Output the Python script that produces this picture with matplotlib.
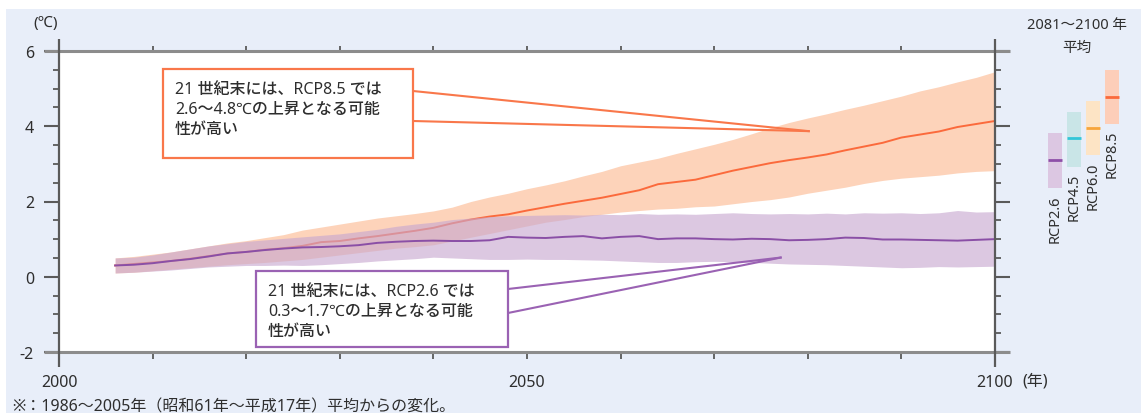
import matplotlib
matplotlib.use('Agg')
import matplotlib.pyplot as plt
from matplotlib.patches import Rectangle
from matplotlib.lines import Line2D
from matplotlib.transforms import Affine2D
from matplotlib.ticker import MultipleLocator

plt.rcParams['font.family'] = ['Noto Sans', 'Noto Sans CJK JP', 'DejaVu Sans']

# ---------------- data ----------------
years = list(range(2006, 2101, 2))

rcp85_mean = [0.30, 0.34, 0.38, 0.42, 0.48, 0.55, 0.62, 0.66, 0.72, 0.76,
              0.82, 0.92, 0.95, 1.02, 1.08, 1.15, 1.22, 1.30, 1.42, 1.52,
              1.60, 1.66, 1.76, 1.85, 1.94, 2.02, 2.10, 2.20, 2.30, 2.46,
              2.52, 2.58, 2.70, 2.82, 2.92, 3.02, 3.10, 3.17, 3.25, 3.36,
              3.46, 3.56, 3.70, 3.78, 3.86, 3.98, 4.06, 4.14]
rcp85_high = [0.50, 0.54, 0.60, 0.66, 0.74, 0.82, 0.90, 0.96, 1.04, 1.12,
              1.24, 1.32, 1.40, 1.48, 1.56, 1.62, 1.68, 1.75, 1.85, 2.00,
              2.12, 2.22, 2.34, 2.44, 2.55, 2.68, 2.80, 2.95, 3.05, 3.15,
              3.28, 3.40, 3.52, 3.65, 3.80, 3.96, 4.10, 4.22, 4.33, 4.45,
              4.56, 4.68, 4.80, 4.94, 5.05, 5.18, 5.30, 5.45]
rcp85_low = [0.10, 0.12, 0.16, 0.20, 0.24, 0.28, 0.32, 0.35, 0.38, 0.42,
             0.46, 0.52, 0.58, 0.64, 0.70, 0.76, 0.80, 0.85, 0.95, 1.05,
             1.15, 1.25, 1.35, 1.45, 1.52, 1.60, 1.66, 1.72, 1.76, 1.80,
             1.82, 1.86, 1.88, 1.94, 2.00, 2.05, 2.12, 2.22, 2.30, 2.38,
             2.48, 2.56, 2.62, 2.66, 2.70, 2.76, 2.80, 2.82]

rcp26_mean = [0.30, 0.32, 0.36, 0.42, 0.47, 0.54, 0.62, 0.66, 0.71, 0.75,
              0.78, 0.79, 0.81, 0.84, 0.90, 0.93, 0.95, 0.96, 0.95, 0.95,
              0.97, 1.06, 1.04, 1.03, 1.06, 1.08, 1.02, 1.06, 1.08, 1.00,
              1.02, 1.02, 1.00, 0.99, 1.01, 1.00, 0.97, 0.98, 1.00, 1.04,
              1.03, 0.99, 0.99, 0.98, 0.97, 0.96, 0.98, 1.00]
rcp26_high = [0.50, 0.52, 0.58, 0.66, 0.74, 0.82, 0.88, 0.94, 0.98, 1.02,
              1.06, 1.10, 1.14, 1.20, 1.26, 1.34, 1.40, 1.45, 1.52, 1.56,
              1.60, 1.62, 1.63, 1.64, 1.65, 1.64, 1.66, 1.65, 1.68, 1.66,
              1.67, 1.66, 1.68, 1.70, 1.68, 1.67, 1.68, 1.67, 1.69, 1.67,
              1.70, 1.69, 1.70, 1.68, 1.70, 1.76, 1.72, 1.73]
rcp26_low = [0.10, 0.12, 0.15, 0.18, 0.22, 0.26, 0.28, 0.30, 0.30, 0.31,
             0.30, 0.32, 0.35, 0.38, 0.42, 0.45, 0.48, 0.52, 0.50, 0.48,
             0.46, 0.46, 0.47, 0.46, 0.46, 0.45, 0.44, 0.42, 0.40, 0.38,
             0.38, 0.40, 0.41, 0.40, 0.38, 0.36, 0.34, 0.33, 0.32, 0.30,
             0.28, 0.26, 0.24, 0.25, 0.27, 0.26, 0.27, 0.28]

# 2081-2100 average panel (schematic boxes, values as drawn on the chart's scale)
scenarios = ['RCP2.6', 'RCP4.5', 'RCP6.0', 'RCP8.5']
box_low = [2.35, 2.93, 3.23, 4.06]
box_mean = [3.10, 3.68, 3.95, 4.77]
box_high = [3.81, 4.38, 4.66, 5.49]
box_colors = ['#dcc7e2', '#c9e5e7', '#fde4c5', '#fdceb9']
mean_colors = ['#8e4fa8', '#33c6d8', '#f7a53a', '#fa6a3c']

xtick_values = list(range(2000, 2101, 10))
xtick_labels = ['2000', '', '', '', '', '2050', '', '', '', '', '2100']
ytick_values = [-2, 0, 2, 4, 6]
ytick_labels = ['-2', '0', '2', '4', '6']

note_85 = '21 世紀末には、RCP8.5 では\n2.6～4.8℃の上昇となる可能\n性が高い'
note_26 = '21 世紀末には、RCP2.6 では\n0.3～1.7℃の上昇となる可能\n性が高い'
tip_85 = (2080.1, 3.87)
tip_26 = (2077.1, 0.51)

# ---------------- figure ----------------
W, H = 1141, 414
fig = plt.figure(figsize=(W / 100, H / 100), dpi=100)
fig.patch.set_facecolor('white')
PX = Affine2D().scale(1 / W, -1 / H).translate(0, 1) + fig.transFigure

fig.patches.append(Rectangle((6, 10), W - 6, H - 10, transform=PX,
                             facecolor='#e8eef9', edgecolor='none', zorder=-5))

TXT = '#2e2e2e'
AX_L, AX_R, AX_T, AX_B = 59, 995, 52, 353
ax = fig.add_axes([AX_L / W, 1 - AX_B / H, (AX_R - AX_L) / W, (AX_B - AX_T) / H])
ax.set_zorder(1)
ax.set_facecolor('white')
ax.set_xlim(2000, 2100)
ax.set_ylim(-2, 6)
for s in ax.spines.values():
    s.set_visible(False)

orange_band = '#fdd3ba'
orange_line = '#fb6a3c'
purple_band = '#c8a8d0'
purple_line = '#8a4fa6'

ax.fill_between(years, rcp85_low, rcp85_high, color=orange_band, lw=0, zorder=1)
ax.plot(years, rcp85_mean, color=orange_line, lw=1.4, zorder=2)
ax.fill_between(years, rcp26_low, rcp26_high, color=purple_band, alpha=0.63, lw=0, zorder=3)
ax.plot(years, rcp26_mean, color=purple_line, lw=1.4, zorder=4)

# axis frame lines
aw, ah = AX_R - AX_L, AX_B - AX_T
gray = '#8c8c8c'
dark = '#5a5a5a'
for yv in (0, 1):
    ax.add_line(Line2D([(44 - AX_L) / aw, (1010 - AX_L) / aw], [yv, yv], transform=ax.transAxes,
                       color=gray, lw=2.2, clip_on=False, zorder=5, solid_capstyle='butt'))
for xv in (0, 1):
    ax.add_line(Line2D([xv, xv], [(AX_B - 368) / ah, (AX_B - 40) / ah], transform=ax.transAxes,
                       color=dark, lw=1.6, clip_on=False, zorder=6, solid_capstyle='butt'))

ax.set_yticks(ytick_values)
ax.set_yticklabels(ytick_labels)
ax.yaxis.set_minor_locator(MultipleLocator(0.5))
ax.yaxis.set_ticks_position('both')
ax.tick_params(axis='y', which='major', direction='out', length=11, width=1.5,
               color=dark, labelsize=11.5, labelcolor=TXT, pad=7, right=True, labelright=False)
ax.tick_params(axis='y', which='minor', direction='out', length=4.5, width=1.3,
               color=dark, right=True)

ax.set_xticks(xtick_values)
ax.set_xticklabels(xtick_labels)
ax.tick_params(axis='x', which='major', direction='out', length=5, width=1.3,
               color=dark, labelsize=11.5, labelcolor=TXT, pad=11)
sec = ax.secondary_xaxis('top')
sec.set_xticks(xtick_values)
sec.set_xticklabels([])
sec.tick_params(axis='x', direction='out', length=3.5, width=1.3, color=dark)
for s in sec.spines.values():
    s.set_visible(False)

# callouts
def callout(text, box, tip, edge, anchors):
    x0, y0, x1, y1 = box
    fig.patches.append(Rectangle((x0, y0), x1 - x0, y1 - y0, transform=PX,
                                 facecolor='white', edgecolor=edge, lw=1.6, zorder=10))
    fig.text(x0 + 12, y0 + 12, text, transform=PX, ha='left', va='top',
             fontsize=11.5, fontweight='medium', color=TXT, linespacing=1.32, zorder=11)
    tx, ty = ax.transData.transform(tip)
    tfx, tfy = fig.transFigure.inverted().transform((tx, ty))
    for ay in anchors:
        p = PX.transform((x1, ay))
        fx, fy = fig.transFigure.inverted().transform(p)
        fig.add_artist(Line2D([fx, tfx], [fy, tfy], transform=fig.transFigure,
                              color=edge, lw=1.5, zorder=9))

callout(note_85, (163, 70, 413, 159), tip_85, '#f9774a', (92, 122))
callout(note_26, (256, 272, 508, 348), tip_26, '#9a62b3', (290, 314))

fig.text(46, 23, '(℃)', transform=PX, ha='center', va='center', fontsize=11, color=TXT)
fig.text(1035, 382, '(年)', transform=PX, ha='center', va='center', fontsize=11.5, color=TXT)
fig.text(12, 407, '※：1986～2005年（昭和61年～平成17年）平均からの変化。', transform=PX,
         ha='left', va='center', fontsize=11.5, color=TXT)

# 2081-2100 average panel
ax2 = fig.add_axes([1036 / W, 1 - AX_B / H, 94 / W, (AX_B - AX_T) / H])
ax2.set_ylim(-2, 6)
ax2.set_xlim(-1.005, 3.97)
ax2.axis('off')
idx = list(range(len(scenarios)))
heights = [h - l for h, l in zip(box_high, box_low)]
ax2.bar(idx, heights, bottom=box_low, width=0.74, color=box_colors, lw=0)
for i in idx:
    ax2.plot([i - 0.37, i + 0.37], [box_mean[i], box_mean[i]], color=mean_colors[i], lw=2,
             solid_capstyle='butt')
    ax2.text(i, box_low[i] - 0.16, scenarios[i], rotation=90, ha='center', va='top',
             fontsize=10.5, color=TXT)

fig.text(1077, 25, '2081～2100 年', transform=PX, ha='center', va='center', fontsize=10.5, color=TXT)
fig.text(1077, 48, '平均', transform=PX, ha='center', va='center', fontsize=10.5, color=TXT)

fig.savefig('out.png', dpi=100)
